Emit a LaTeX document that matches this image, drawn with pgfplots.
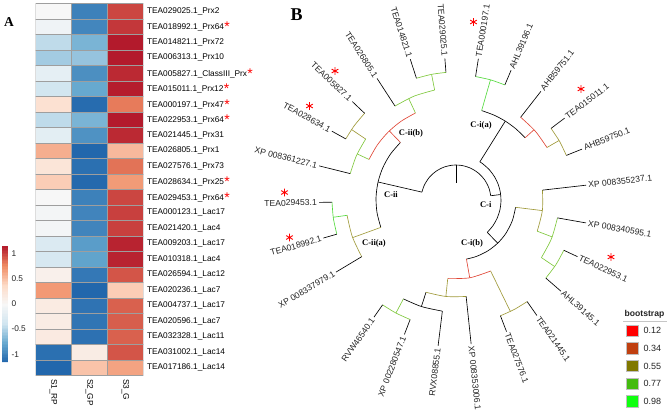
\documentclass[border=0pt]{standalone}
\usepackage{pgfplots}
\pgfplotsset{compat=1.18}
\usepackage{fontspec}
\setmainfont{Liberation Sans}
\newfontfamily\tms{Liberation Serif}

\definecolor{tred}{RGB}{224,72,56}
\definecolor{tolive}{RGB}{160,154,58}
\definecolor{tgreen}{RGB}{128,200,62}
\definecolor{tbright}{RGB}{84,218,62}
\definecolor{tgrey}{RGB}{35,35,35}
\definecolor{bs1}{RGB}{255,0,0}
\definecolor{bs2}{RGB}{192,64,16}
\definecolor{bs3}{RGB}{128,120,0}
\definecolor{bs4}{RGB}{68,187,16}
\definecolor{bs5}{RGB}{16,255,16}

\pgfplotsset{
  br/.style={line width=0.65pt, data cs=polar, mark=none},
  arc/.style={br, smooth},
}
\tikzset{tl/.style={font=\fontsize{8.6}{9}\selectfont, text=tgrey, inner sep=1pt}}
\newcommand{\tipR}[3]{\path (O) ++(#1:#2pt) node[tl,rotate={#1},anchor=west]{#3};}
\newcommand{\tipL}[3]{\path (O) ++(#1:#2pt) node[tl,rotate={#1-180},anchor=east]{#3};}
\newcommand{\st}{\kern0.3pt\raisebox{-1.8pt}{\textcolor{red}{\fontsize{14}{14}\selectfont*}}}

\begin{document}
\begin{tikzpicture}

% ---- tree (polar data, origin at tree centre)
\begin{axis}[at={(0pt,0pt)}, anchor=south west, width=669pt, height=413pt,
  scale only axis, hide axis, clip=false, enlargelimits=false,
  xmin=-456, xmax=213, ymin=-213, ymax=200]
% backbone
\addplot[br,black] coordinates {(90,17)(90,35)};
\addplot[arc,black] coordinates {(7,35)(20,35)(35,35)(50,35)(65,35)(80,35)(95,35)(110,35)(125,35)(140,35)(155,35)(167,35)};
\addplot[br,black] coordinates {(7,35)(7,45)};
\addplot[arc,black] coordinates {(-46,45)(-35,45)(-24,45)(-13,45)(-2,45)(9,45)(20,45)(31,45)(42,45)(53,45)(58,45)};
\addplot[br,black] coordinates {(58,45)(58,93)};
\addplot[arc,black] coordinates {(42,93)(50,93)(58,93)(66,93)(74,93)};
\addplot[br,black] coordinates {(167,35)(167,80)};
\addplot[arc,black] coordinates {(134,80)(145,80)(156,80)(167,80)(178,80)(189,80)(200,80)};
\addplot[br,black] coordinates {(-46,45)(-46,60)};
\addplot[arc,black] coordinates {(-80,60)(-70,60)(-58,60)(-46,60)(-34,60)(-20,60)(-7,60)};
\addplot[br,black] coordinates {(-108,97)(-108,112)};
\addplot[arc,black] coordinates {(-118,112)(-108,112)(-97,112)};
% red
\addplot[br,tred] coordinates {(42,93)(42,105)};
\addplot[arc,tred] coordinates {(30,105)(41,105)(52,105)};
\addplot[br,tred] coordinates {(-80,60)(-80,79)};
\addplot[arc,tred] coordinates {(-96,79)(-80,79)(-64,79)};
\addplot[br,tred] coordinates {(134,80)(134,96)};
\addplot[arc,tred] coordinates {(115,96)(125,96)(135,96)(145,96)(155,96)};
% olive
\addplot[br,tolive] coordinates {(30,105)(30,119)};
\addplot[arc,tolive] coordinates {(22,119)(29.5,119)(37,119)};
\addplot[br,tolive] coordinates {(-7,60)(-7,87)};
\addplot[arc,tolive] coordinates {(-21,87)(-7,87)(6.5,87)};
\addplot[br,tolive] coordinates {(-64,79)(-64,124)};
\addplot[arc,tolive] coordinates {(-69,124)(-62,124)(-55,124)};
\addplot[br,tolive] coordinates {(-96,79)(-96,97)};
\addplot[arc,tolive] coordinates {(-108,97)(-96,97)(-84,97)};
\addplot[br,tolive] coordinates {(200,80)(200,110)};
\addplot[arc,tolive] coordinates {(188,110)(199.5,110)(211,110)};
\addplot[br,tolive] coordinates {(146,109)(146,126)};
\addplot[arc,tolive] coordinates {(136.5,126)(144,126)(151,126)};
% green
\addplot[br,tbright] coordinates {(74,93)(74,125)};
\addplot[arc,tbright] coordinates {(67,125)(74,125)(81,125)};
\addplot[br,tgreen] coordinates {(-21,87)(-21,103)};
\addplot[arc,tgreen] coordinates {(-34,103)(-22,103)(-10,103)};
\addplot[br,tgreen] coordinates {(-34,103)(-34,119)};
\addplot[arc,tgreen] coordinates {(-41,119)(-33,119)(-25,119)};
\addplot[br,tgreen] coordinates {(-118,112)(-118,128)};
\addplot[arc,tgreen] coordinates {(-125,128)(-118,128)(-111,128)};
\addplot[br,tbright] coordinates {(188,110)(188,124)};
\addplot[arc,tbright] coordinates {(181,124)(188.5,124)(196,124)};
\addplot[br,tgreen] coordinates {(155,96)(155,109)};
\addplot[arc,tgreen] coordinates {(146,109)(156,109)(166,109)};
\addplot[br,tgreen] coordinates {(115,96)(115,112)};
\addplot[arc,tgreen] coordinates {(101,112)(112,112)(123,112)};
\addplot[br,tgreen] coordinates {(101,112)(101,128)};
\addplot[arc,tgreen] coordinates {(94.5,128)(101,128)(108,128)};
% tips
\addplot[br,black] coordinates {(6.5,87)(6.5,131)};
\addplot[br,black] coordinates {(22,119)(22,136)};
\addplot[br,black] coordinates {(37,119)(37,136)};
\addplot[br,black] coordinates {(52,105)(52,138)};
\addplot[br,black] coordinates {(67,125)(67,141)};
\addplot[br,black] coordinates {(81,125)(81,143)};
\addplot[br,black] coordinates {(94.5,128)(94.5,142)};
\addplot[br,black] coordinates {(108,128)(108,148)};
\addplot[br,black] coordinates {(123,112)(123,145)};
\addplot[br,black] coordinates {(136.5,126)(136.5,143)};
\addplot[br,black] coordinates {(151,126)(151,142)};
\addplot[br,black] coordinates {(166,109)(166,141)};
\addplot[br,black] coordinates {(181,124)(181,137)};
\addplot[br,black] coordinates {(196,124)(196,138)};
\addplot[br,black] coordinates {(211,110)(211,140)};
\addplot[br,black] coordinates {(-125,128)(-125,143)};
\addplot[br,black] coordinates {(-111,128)(-111,144)};
\addplot[br,black] coordinates {(-97,112)(-97,147)};
\addplot[br,black] coordinates {(-84,97)(-84,145)};
\addplot[br,black] coordinates {(-69,124)(-69,141)};
\addplot[br,black] coordinates {(-55,124)(-55,141)};
\addplot[br,black] coordinates {(-41,119)(-41,139)};
\addplot[br,black] coordinates {(-25,119)(-25,134)};
\addplot[br,black] coordinates {(-10,103)(-10,132)};
\coordinate (O) at (axis cs:0,0);
\end{axis}

\tipR{6.5}{132}{XP 008355237.1}
\tipR{22}{137}{AHB59750.1}
\tipR{37}{137}{TEA015011.1}
\tipR{52}{139}{AHB59751.1}
\tipR{67}{142}{AHL39196.1}
\tipR{81}{144}{TEA000197.1}
\tipL{94.5}{143}{TEA029025.1}
\tipL{108}{149}{TEA014821.1}
\tipL{123}{146}{TEA026805.1}
\tipL{136.5}{144}{TEA005827.1}
\tipL{151}{143}{TEA028634.1}
\tipL{166}{142}{XP 008361227.1}
\tipL{181}{138}{TEA029453.1}
\tipL{196}{139}{TEA018992.1}
\tipL{211}{141}{XP 008337979.1}
\tipL{235}{144}{RVW46540.1}
\tipL{249}{145}{XP 002280547.1}
\tipL{263}{148}{RVX08855.1}
\tipR{-84}{146}{XP 008353006.1}
\tipR{-69}{142}{TEA027576.1}
\tipR{-55}{142}{TEA021445.1}
\tipR{-41}{140}{AHL39145.1}
\tipR{-25}{135}{TEA022953.1}
\tipR{-10}{133}{XP 008340595.1}

% ---- heatmap (row-scaled expression)
\begin{axis}[at={(35.5pt,37.5pt)}, anchor=south west, width=108pt, height=372pt,
  scale only axis, enlargelimits=false,
  xmin=0.5, xmax=3.5, ymin=0.5, ymax=24.5, y dir=reverse,
  axis line style={draw=none}, major tick length=0pt,
  xtick={1,2,3}, xticklabels={S1\_RP,S2\_GP,S3\_G},
  xticklabel style={rotate=-90, anchor=west, font=\fontsize{8.3}{9}\selectfont},
  ytick={1,...,24}, yticklabel pos=right,
  yticklabel style={anchor=west, font=\fontsize{8.3}{9}\selectfont},
  yticklabels={TEA029025.1\_Prx2, TEA018992.1\_Prx64\st, TEA014821.1\_Prx72,
    TEA006313.1\_Prx10, TEA005827.1\_ClassIII\_Prx\st, TEA015011.1\_Prx12\st,
    TEA000197.1\_Prx47\st, TEA022953.1\_Prx64\st, TEA021445.1\_Prx31,
    TEA026805.1\_Prx1, TEA027576.1\_Prx73, TEA028634.1\_Prx25\st,
    TEA029453.1\_Prx64\st, TEA000123.1\_Lac17, TEA021420.1\_Lac4,
    TEA009203.1\_Lac17, TEA010318.1\_Lac4, TEA026594.1\_Lac12,
    TEA020236.1\_Lac7, TEA004737.1\_Lac17, TEA020596.1\_Lac7,
    TEA032328.1\_Lac11, TEA031002.1\_Lac14, TEA017186.1\_Lac14},
  colormap={rdbu}{rgb255=(33,102,172) rgb255=(103,169,207) rgb255=(209,229,240)
    rgb255=(247,247,247) rgb255=(253,219,199) rgb255=(239,138,98) rgb255=(178,24,43)},
  point meta min=-1.1547, point meta max=1.1547,
  colorbar left, colorbar sampled,
  colorbar style={at={(parent axis.south west)}, anchor=south west,
    xshift=-24.96pt, yshift=13.5pt, width=6pt, height=116pt, scale only axis,
    samples=80,
    axis line style={draw=none}, major tick length=0pt, xtick=\empty,
    ytick={-1,-0.5,0,0.5,1}, yticklabel pos=right,
    yticklabel style={anchor=west, text=tgrey, font=\fontsize{8.3}{9}\selectfont,
      /pgf/number format/assume math mode=true, /pgf/number format/fixed}},
]
\addplot[matrix plot*, shader=faceted, faceted color=black!38, line width=0.6pt,
  mesh/cols=3, point meta=explicit] table[meta=z] {
x y z
1 1 0.00
2 1 -1.00
3 1 1.00
1 2 -0.08
2 2 -0.97
3 2 1.05
1 3 -0.45
2 3 -0.70
3 3 1.15
1 4 -0.55
2 4 -0.60
3 4 1.15
1 5 -0.18
2 5 -0.92
3 5 1.10
1 6 -0.37
2 6 -0.77
3 6 1.14
1 7 0.30
2 7 -1.12
3 7 0.82
1 8 -0.45
2 8 -0.70
3 8 1.15
1 9 -0.20
2 9 -0.90
3 9 1.10
1 10 0.60
2 10 -1.15
3 10 0.55
1 11 0.25
2 11 -1.10
3 11 0.85
1 12 0.45
2 12 -1.14
3 12 0.69
1 13 0.00
2 13 -1.00
3 13 1.00
1 14 -0.04
2 14 -0.98
3 14 1.02
1 15 -0.04
2 15 -0.98
3 15 1.02
1 16 -0.28
2 16 -0.84
3 16 1.12
1 17 -0.32
2 17 -0.80
3 17 1.12
1 18 0.10
2 18 -1.05
3 18 0.95
1 19 0.70
2 19 -1.15
3 19 0.45
1 20 0.17
2 20 -1.08
3 20 0.91
1 21 0.15
2 21 -1.07
3 21 0.92
1 22 0.18
2 22 -1.09
3 22 0.91
1 23 -1.10
2 23 0.15
3 23 0.95
1 24 -1.15
2 24 0.50
3 24 0.65
};
\end{axis}

% ---- annotation layer in picture pixels
\begin{axis}[at={(0pt,0pt)}, anchor=south west, width=669pt, height=413pt,
  scale only axis, hide axis, clip=false, enlargelimits=false,
  xmin=0, xmax=669, ymin=0, ymax=413, y dir=reverse,
  legend style={at={(axis cs:626,324.5)}, anchor=north west, draw=none, fill=none,
    inner sep=0pt, row sep=5.8pt, column sep=5.5pt,
    font=\fontsize{9}{10}\selectfont, text=tgrey,
    nodes={inner sep=0pt, text height=6.5pt, text depth=0pt}},
  legend cell align=left,
  legend image code/.code={\draw[#1] (0pt,-5.7pt) rectangle (11.4pt,5.7pt);}]
\addlegendimage{fill=bs1, draw=gray!50}\addlegendentry{0.12}
\addlegendimage{fill=bs2, draw=gray!50}\addlegendentry{0.34}
\addlegendimage{fill=bs3, draw=gray!50}\addlegendentry{0.55}
\addlegendimage{fill=bs4, draw=gray!50}\addlegendentry{0.77}
\addlegendimage{fill=bs5, draw=gray!50}\addlegendentry{0.98}
\addplot[forget plot, only marks, mark=asterisk, red, mark size=3.8pt, line width=0.9pt]
  coordinates {(335,71)(309.5,106)(284.5,192.5)(289.5,237.5)(473.5,22)(581,89)(611,257)};
\node[font=\tms\bfseries\fontsize{13.5}{14}\selectfont] at (axis cs:9,22.5) {A};
\node[font=\tms\bfseries\fontsize{18}{18}\selectfont] at (axis cs:296.5,14.5) {B};
\node[font=\tms\bfseries\fontsize{8.5}{9}\selectfont] at (axis cs:481,125) {C-i(a)};
\node[font=\tms\bfseries\fontsize{8.5}{9}\selectfont] at (axis cs:485.7,204.3) {C-i};
\node[font=\tms\bfseries\fontsize{8.5}{9}\selectfont] at (axis cs:472,243.5) {C-i(b)};
\node[font=\tms\bfseries\fontsize{8.5}{9}\selectfont] at (axis cs:391,195) {C-ii};
\node[font=\tms\bfseries\fontsize{8.5}{9}\selectfont] at (axis cs:374,243.7) {C-ii(a)};
\node[font=\tms\bfseries\fontsize{8.5}{9}\selectfont] at (axis cs:411,133) {C-ii(b)};
\node[font=\bfseries\fontsize{8.6}{9}\selectfont, text=tgrey] at (axis cs:644.5,314.5) {bootstrap};
\draw[gray!45, line width=0.6pt] (axis cs:623,321.7) -- (axis cs:667,321.7);
\end{axis}

\pgfresetboundingbox
\path[use as bounding box] (0pt,0pt) rectangle (669pt,413pt);
\end{tikzpicture}
\end{document}
